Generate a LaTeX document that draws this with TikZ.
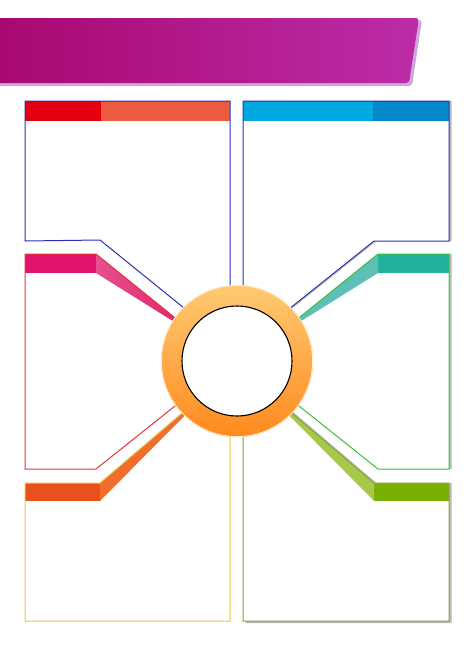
\documentclass[tikz,border=0pt]{standalone}
\usetikzlibrary{calc}
\definecolor{bannerL}{HTML}{A80870}
\definecolor{bannerR}{HTML}{BC2CA8}
\definecolor{bannerSh}{HTML}{CDA6DC}
\definecolor{boxgray}{HTML}{E7E6E9}
\definecolor{tlA}{HTML}{E2000F}
\definecolor{tlB}{HTML}{EC5A40}
\definecolor{tlLine}{HTML}{2E2EB4}
\definecolor{trA}{HTML}{00A9E2}
\definecolor{trB}{HTML}{0088C9}
\definecolor{mlA}{HTML}{E0146A}
\definecolor{mlW}{HTML}{E6508C}
\definecolor{mlWd}{HTML}{DE1E68}
\definecolor{mlLine}{HTML}{E8323C}
\definecolor{mrA}{HTML}{22B29C}
\definecolor{mrW}{HTML}{5EBFB7}
\definecolor{mrLine}{HTML}{3CC03C}
\definecolor{blA}{HTML}{E8521A}
\definecolor{blW}{HTML}{F26C2C}
\definecolor{blLine}{HTML}{E6C650}
\definecolor{brA}{HTML}{7AB002}
\definecolor{brW}{HTML}{A8C84C}
\definecolor{brLine}{HTML}{86A43A}
\definecolor{ringT}{HTML}{FFCA72}
\definecolor{ringB}{HTML}{FF8A1E}
\tikzset{
  outl/.style={line width=1pt, line join=miter},
  boxshadow/.style={fill=gray!55},
  pageshade/.style={top color=white, middle color=boxgray, bottom color=white}
}
\newcommand{\boxfill}[1]{%
  \begin{scope}
    \clip #1;
    \shade[pageshade] (0,-90) rectangle (474,-870);
  \end{scope}}
\begin{document}
\begin{tikzpicture}[x=1pt,y=1pt]
\useasboundingbox (0,0) rectangle (474,-670);
\fill[white] (0,0) rectangle (474,-670);

% banner
\fill[bannerSh, rounded corners=3pt] (-5,-20) -- (422,-20) -- (412,-86) -- (-5,-86) -- cycle;
\shade[left color=bannerL, right color=bannerR, rounded corners=3pt]
  (-5,-18) -- (419,-18) -- (409,-83) -- (-5,-83) -- cycle;

% ---------- top-left box ----------
\boxfill{(25,-101) -- (230,-101) -- (230,-325) -- (205,-325) -- (100,-240) -- (25,-241) -- cycle}
\fill[tlA] (25,-101) rectangle (101,-121);
\fill[tlB] (101,-101) rectangle (230,-121);
\draw[outl, tlLine] (205,-325) -- (100,-240) -- (25,-241) -- (25,-101) -- (230,-101) -- (230,-325);

% ---------- top-right box ----------
\fill[boxshadow] (245.5,-101) -- (451.5,-101) -- (451.5,-241) -- (376.5,-241) -- (271.5,-325) -- (245.5,-325) -- cycle;
\boxfill{(243,-101) -- (449,-101) -- (449,-241) -- (374,-241) -- (269,-325) -- (243,-325) -- cycle}
\fill[trA] (243,-101) rectangle (373,-121);
\fill[trB] (373,-101) rectangle (449,-121);
\draw[outl, tlLine] (269,-325) -- (374,-241) -- (449,-241) -- (449,-101) -- (243,-101) -- (243,-325);

% ---------- middle-left box ----------
\boxfill{(25,-254) -- (96,-254) -- (200,-338) -- (190,-394) -- (96,-469) -- (25,-469) -- cycle}
\fill[mlA] (25,-254) rectangle (96,-273);
\shade[left color=mlW, right color=mlWd] (96,-254) -- (96,-273) -- (200,-338) -- cycle;
\draw[outl, mlLine] (200,-338) -- (96,-254) -- (25,-254) -- (25,-469) -- (96,-469) -- (190,-394);

% ---------- middle-right box ----------
\fill[boxshadow] (451.5,-254) -- (451.5,-469) -- (380.5,-469) -- (286.5,-394) -- (276.5,-338) -- (380.5,-254) -- cycle;
\boxfill{(449,-254) -- (378,-254) -- (274,-338) -- (284,-394) -- (378,-469) -- (449,-469) -- cycle}
\fill[mrA] (378,-254) rectangle (449,-273);
\fill[mrW] (378,-254) -- (378,-273) -- (274,-338) -- cycle;
\draw[outl, mrLine] (274,-338) -- (378,-254) -- (449,-254) -- (449,-469) -- (378,-469) -- (284,-394);

% ---------- bottom-left box ----------
\boxfill{(25,-483) -- (100,-483) -- (215,-385) -- (230,-385) -- (230,-621) -- (25,-621) -- cycle}
\fill[blA] (25,-483) rectangle (100,-501);
\fill[blW] (100,-483) -- (100,-501) -- (215,-385) -- cycle;
\draw[outl, blLine] (215,-385) -- (100,-483) -- (25,-483) -- (25,-621) -- (230,-621) -- (230,-385);

% ---------- bottom-right box ----------
\fill[boxshadow] (451.5,-483) -- (376.5,-483) -- (261.5,-385) -- (245.5,-385) -- (245.5,-623) -- (451.5,-623) -- cycle;
\boxfill{(449,-483) -- (374,-483) -- (259,-385) -- (243,-385) -- (243,-621) -- (449,-621) -- cycle}
\fill[brA] (374,-483) rectangle (449,-501);
\fill[brW] (374,-483) -- (374,-501) -- (259,-385) -- cycle;
\draw[outl, brLine] (259,-385) -- (374,-483) -- (449,-483) -- (449,-621) -- (243,-621) -- (243,-385);

% ---------- hub ----------
\shade[top color=ringT, bottom color=ringB] (237,-361) circle (76);
\draw[white!70!ringT, line width=0.8pt] (237,-361) circle (75.6);
\node[circle, draw=black, fill=white, line width=1.1pt, minimum size=110pt, inner sep=0pt] (hub) at (237,-361) {};
\end{tikzpicture}
\end{document}
